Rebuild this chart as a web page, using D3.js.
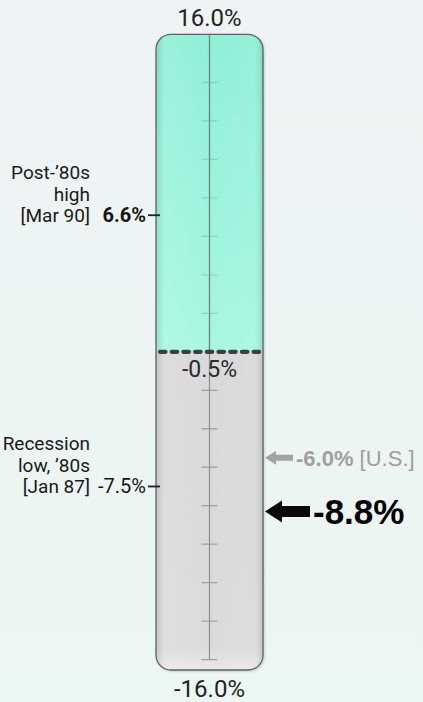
<!DOCTYPE html>
<html>
<head>
<meta charset="utf-8">
<script src="https://cdn.jsdelivr.net/npm/d3@7"></script>
<style>
  html, body { margin: 0; padding: 0; background: #eef3f2; }
  svg { display: block; }
</style>
</head>
<body>
<script>
// Gauge data
const rangeEnds = [16.0, -16.0];          // top and bottom of the gauge
const splitValue = -0.5;                   // boundary between the two zones
const tickValues = [13.5, 11.5, 9.5, 7.5, 5.5, 3.5, 1.5, -2.5, -4.5, -6.5, -8.5, -10.5, -12.5, -14.5, -16.5];
const markerLines = [["Post-\u201980s", "high", "[Mar 90]"], ["Recession", "low, \u201980s", "[Jan 87]"]];
const markerValues = [6.6, -7.5];
const markerBold = [true, false];
const pointerValues = [-6.0, -8.8];
const pointerNotes = ["[U.S.]", ""];

const W = 423, H = 702;
const fmt = v => d3.format(".1f")(v).replace("\u2212", "-") + "%";

const svg = d3.select("body").append("svg")
  .attr("width", W).attr("height", H)
  .style("font-family", "Roboto, 'Liberation Sans', sans-serif");

const defs = svg.append("defs");

// page background
const bg = defs.append("linearGradient").attr("id", "bg").attr("x1", 0).attr("y1", 0).attr("x2", 0).attr("y2", 1);
bg.append("stop").attr("offset", 0).attr("stop-color", "#eff3f3");
bg.append("stop").attr("offset", 1).attr("stop-color", "#ecf6f2");
svg.append("rect").attr("width", W).attr("height", H).attr("fill", "url(#bg)");

// vertical value scale
const y = d3.scaleLinear().domain(rangeEnds).range([34.4, 650]);

const tubeX0 = 156, tubeX1 = 263, tubeR = 15;
const tubeTop = y(rangeEnds[0]);
const tubeBottom = y(rangeEnds[1]) + 20;
const cx = (tubeX0 + tubeX1) / 2;

const upper = defs.append("linearGradient").attr("id", "upper").attr("x1", 0).attr("y1", 0).attr("x2", 0).attr("y2", 1);
upper.append("stop").attr("offset", 0).attr("stop-color", "#8ff0d5");
upper.append("stop").attr("offset", 1).attr("stop-color", "#a8f7e0");

const lower = defs.append("linearGradient").attr("id", "lower").attr("x1", 0).attr("y1", 0).attr("x2", 0).attr("y2", 1);
lower.append("stop").attr("offset", 0).attr("stop-color", "#d9d9d9");
lower.append("stop").attr("offset", 0.93).attr("stop-color", "#dbdbdb");
lower.append("stop").attr("offset", 1).attr("stop-color", "#e9e9e9");

// side shading gives the tube a rounded look
const shade = defs.append("linearGradient").attr("id", "shade").attr("x1", 0).attr("y1", 0).attr("x2", 1).attr("y2", 0);
shade.append("stop").attr("offset", 0).attr("stop-color", "#000").attr("stop-opacity", 0.10);
shade.append("stop").attr("offset", 0.08).attr("stop-color", "#fff").attr("stop-opacity", 0.10);
shade.append("stop").attr("offset", 0.5).attr("stop-color", "#fff").attr("stop-opacity", 0.0);
shade.append("stop").attr("offset", 0.92).attr("stop-color", "#fff").attr("stop-opacity", 0.05);
shade.append("stop").attr("offset", 1).attr("stop-color", "#000").attr("stop-opacity", 0.12);

const sh = defs.append("filter").attr("id", "drop").attr("x", "-20%").attr("y", "-5%").attr("width", "140%").attr("height", "110%");
sh.append("feDropShadow").attr("dx", 1).attr("dy", 1).attr("stdDeviation", 1.5).attr("flood-color", "#000").attr("flood-opacity", 0.25);

defs.append("clipPath").attr("id", "tubeClip")
  .append("rect").attr("x", tubeX0).attr("y", tubeTop)
  .attr("width", tubeX1 - tubeX0).attr("height", tubeBottom - tubeTop).attr("rx", tubeR);

// tube body
svg.append("rect").attr("x", tubeX0).attr("y", tubeTop)
  .attr("width", tubeX1 - tubeX0).attr("height", tubeBottom - tubeTop).attr("rx", tubeR)
  .attr("fill", "#ddd").attr("filter", "url(#drop)");

const body = svg.append("g").attr("clip-path", "url(#tubeClip)");
body.append("rect").attr("x", tubeX0).attr("y", tubeTop)
  .attr("width", tubeX1 - tubeX0).attr("height", y(splitValue) - tubeTop).attr("fill", "url(#upper)");
body.append("rect").attr("x", tubeX0).attr("y", y(splitValue))
  .attr("width", tubeX1 - tubeX0).attr("height", tubeBottom - y(splitValue)).attr("fill", "url(#lower)");
body.append("rect").attr("x", tubeX0).attr("y", tubeTop)
  .attr("width", tubeX1 - tubeX0).attr("height", tubeBottom - tubeTop).attr("fill", "url(#shade)");

// centre stem
body.append("line").attr("x1", cx).attr("x2", cx).attr("y1", tubeTop).attr("y2", y(splitValue))
  .attr("stroke", "#6f8c84").attr("stroke-width", 1.4);
body.append("line").attr("x1", cx).attr("x2", cx).attr("y1", y(splitValue)).attr("y2", y(tickValues[tickValues.length - 1]))
  .attr("stroke", "#8e8e8e").attr("stroke-width", 1.2);

// tick marks
body.selectAll("line.tick").data(tickValues).join("line")
  .attr("class", "tick")
  .attr("x1", cx - 8).attr("x2", cx + 8)
  .attr("y1", d => y(d)).attr("y2", d => y(d))
  .attr("stroke", d => d > splitValue ? "#7fa79b" : "#9a9a9a")
  .attr("stroke-opacity", d => d > splitValue ? 0.45 : 0.9)
  .attr("stroke-width", 1.3);

// tube outline
svg.append("rect").attr("x", tubeX0).attr("y", tubeTop)
  .attr("width", tubeX1 - tubeX0).attr("height", tubeBottom - tubeTop).attr("rx", tubeR)
  .attr("fill", "none").attr("stroke", "#5e6462").attr("stroke-width", 1.3);

// dotted split line
svg.append("line").attr("x1", tubeX0 + 4).attr("x2", tubeX1 - 3)
  .attr("y1", y(splitValue)).attr("y2", y(splitValue))
  .attr("stroke", "#3e3e3e").attr("stroke-width", 4.2)
  .attr("stroke-linecap", "round").attr("stroke-dasharray", "5.5,6.2");

// range end labels and split label
svg.append("text").attr("x", cx).attr("y", tubeTop - 8).attr("text-anchor", "middle")
  .attr("font-size", 24).attr("fill", "#222").text(fmt(rangeEnds[0]));
svg.append("text").attr("x", cx).attr("y", 697).attr("text-anchor", "middle")
  .attr("font-size", 24).attr("fill", "#222").text(fmt(rangeEnds[1]));
svg.append("text").attr("x", cx).attr("y", y(splitValue) + 25).attr("text-anchor", "middle")
  .attr("font-size", 23).attr("fill", "#2a2a2a").text(fmt(splitValue));

// left-hand markers
const markers = svg.selectAll("g.marker").data(markerValues).join("g")
  .attr("class", "marker")
  .attr("transform", d => `translate(0,${y(d)})`);
markers.append("line").attr("x1", 148).attr("x2", 160).attr("y1", 0).attr("y2", 0)
  .attr("stroke", "#1e1e1e").attr("stroke-width", 1.8);
markers.append("text").attr("x", 146).attr("y", 7).attr("text-anchor", "end")
  .attr("font-size", 20).attr("font-weight", (d, i) => markerBold[i] ? 700 : 400)
  .attr("fill", "#151515").text(d => fmt(d));
markers.each(function (d, i) {
  const lines = markerLines[i];
  d3.select(this).selectAll("text.note").data(lines).join("text")
    .attr("class", "note")
    .attr("x", 90).attr("text-anchor", "end")
    .attr("y", (t, j) => 7 - (lines.length - 1 - j) * 21.5)
    .attr("font-size", 19).attr("fill", "#1a1a1a").text(t => t);
});

// right-hand pointers
const arrowStyle = [
  { color: "#a3a3a3", len: 28, shaft: 6, head: 14, headLen: 11, size: 22, weight: 700, noteColor: "#a0a0a0" },
  { color: "#0a0a0a", len: 45, shaft: 11, head: 22, headLen: 17, size: 35, weight: 700, noteColor: "#000" }
];
const tipX = 265;
const ptr = svg.selectAll("g.pointer").data(pointerValues).join("g")
  .attr("class", "pointer")
  .attr("transform", d => `translate(${tipX},${y(d)})`);
ptr.append("path")
  .attr("d", (d, i) => {
    const s = arrowStyle[i];
    return `M0,0 L${s.headLen},${-s.head / 2} L${s.headLen},${-s.shaft / 2} L${s.len},${-s.shaft / 2} ` +
      `L${s.len},${s.shaft / 2} L${s.headLen},${s.shaft / 2} L${s.headLen},${s.head / 2} Z`;
  })
  .attr("fill", (d, i) => arrowStyle[i].color);
const ptrText = ptr.append("text")
  .attr("x", (d, i) => arrowStyle[i].len + 3)
  .attr("y", (d, i) => arrowStyle[i].size * 0.36)
  .attr("font-family", "'Liberation Sans', Arial, sans-serif")
  .attr("font-size", (d, i) => arrowStyle[i].size)
  .attr("fill", (d, i) => arrowStyle[i].noteColor);
ptrText.append("tspan").attr("font-weight", 700).text(d => fmt(d));
ptrText.append("tspan").attr("font-weight", 400).attr("fill", "#9e9e9e")
  .text((d, i) => pointerNotes[i] ? " " + pointerNotes[i] : "");
</script>
</body>
</html>
